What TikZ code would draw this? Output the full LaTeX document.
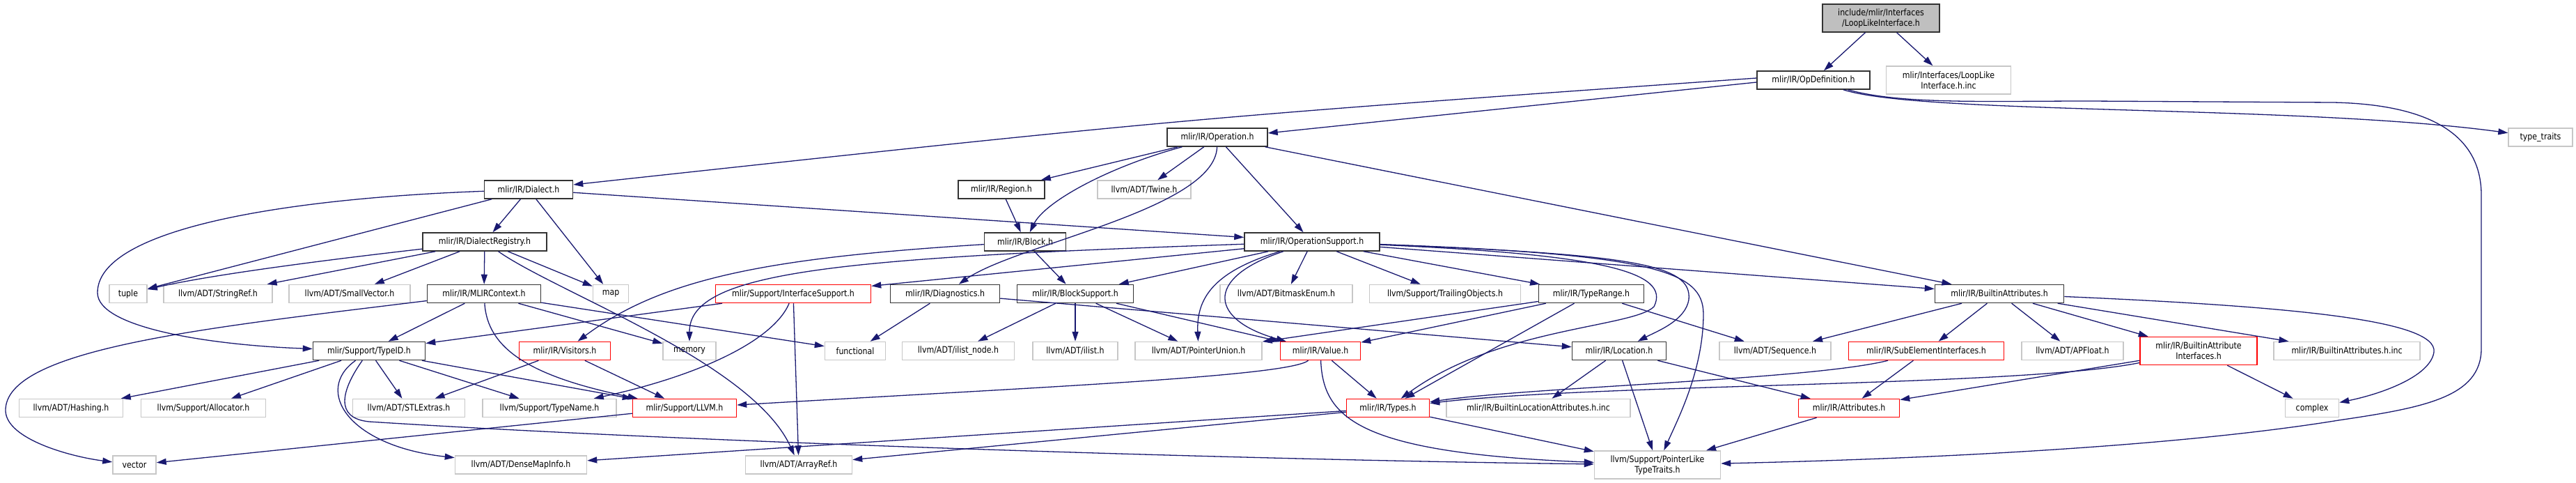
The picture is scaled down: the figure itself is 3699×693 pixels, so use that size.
\documentclass[tikz,border=0pt]{standalone}
\usepackage{fontspec}
\setmainfont{DejaVu Sans}[FakeStretch=0.86]
\usetikzlibrary{arrows.meta}
\definecolor{edgec}{HTML}{191970}
\tikzset{
  nd/.style={rectangle, line width=1.5pt, inner xsep=3pt, inner ysep=2pt, minimum height=26pt, align=center, font=\fontsize{12.8}{15}\selectfont, text=black},
  doc/.style={nd, draw=black!80},
  ext/.style={nd, draw=black!22},
  trunc/.style={nd, draw=red},
  topbox/.style={nd, draw=black!80, fill=black!25},
  w/.style={minimum width=#1pt},
  two/.style={minimum height=40pt},
  edge/.style={draw=edgec, line width=1.3pt, -{Triangle[length=14pt,width=9pt]}},
}
\begin{document}
\begin{tikzpicture}[x=1pt,y=-1pt]
\useasboundingbox (0,0) rectangle (3699,693);
% rank 0/1/2
\node[topbox,w=168,two] (top) at (2701,26) {include/mlir/Interfaces\\/LoopLikeInterface.h};
\node[doc,w=162] (opdef) at (2604,115) {mlir/IR/OpDefinition.h};
\node[ext,w=179,two] (inc) at (2798,115) {mlir/Interfaces/LoopLike\\Interface.h.inc};
\node[doc,w=144] (operation) at (1748,197) {mlir/IR/Operation.h};
\node[ext,w=92] (typetraits) at (3648,197) {type\_traits};
% rank 3
\node[doc,w=127] (dialect) at (759,272) {mlir/IR/Dialect.h};
\node[doc,w=124] (region) at (1438,272) {mlir/IR/Region.h};
\node[ext,w=134] (twine) at (1643,272) {llvm/ADT/Twine.h};
% rank 4
\node[doc,w=178] (registry) at (696,347) {mlir/IR/DialectRegistry.h};
\node[doc,w=117] (block) at (1472,347) {mlir/IR/Block.h};
\node[doc,w=194] (opsupport) at (1884,347) {mlir/IR/OperationSupport.h};
% rank 5
\node[ext,w=54] (tuple) at (184,421.5) {tuple};
\node[ext,w=156] (stringref) at (313,421.5) {llvm/ADT/StringRef.h};
\node[ext,w=174] (smallvector) at (502,421.5) {llvm/ADT/SmallVector.h};
\node[doc,w=163] (mlircontext) at (695,421.5) {mlir/IR/MLIRContext.h};
\node[ext,w=51] (map) at (877,421.5) {map};
\node[trunc,w=223] (ifsupport) at (1139,421.5) {mlir/Support/InterfaceSupport.h};
\node[doc,w=157] (diagnostics) at (1357,421.5) {mlir/IR/Diagnostics.h};
\node[doc,w=167] (blocksupport) at (1544,421.5) {mlir/IR/BlockSupport.h};
\node[ext,w=190] (bitmask) at (1847,421.5) {llvm/ADT/BitmaskEnum.h};
\node[ext,w=217] (trailing) at (2075,421.5) {llvm/Support/TrailingObjects.h};
\node[doc,w=151] (typerange) at (2285,421.5) {mlir/IR/TypeRange.h};
\node[doc,w=185] (battrs) at (2871,421.5) {mlir/IR/BuiltinAttributes.h};
% rank 6
\node[doc,w=161] (typeid) at (530,503.5) {mlir/Support/TypeID.h};
\node[trunc,w=131] (visitors) at (811,503.5) {mlir/IR/Visitors.h};
\node[ext,w=76] (memory) at (990,503.5) {memory};
\node[ext,w=87] (functional) at (1228,503.5) {functional};
\node[ext,w=161] (ilistnode) at (1376,503.5) {llvm/ADT/ilist\_node.h};
\node[ext,w=122] (ilist) at (1544,503.5) {llvm/ADT/ilist.h};
\node[ext,w=182] (ptrunion) at (1721,503.5) {llvm/ADT/PointerUnion.h};
\node[trunc,w=115] (value) at (1896,503.5) {mlir/IR/Value.h};
\node[doc,w=135] (location) at (2325,503.5) {mlir/IR/Location.h};
\node[ext,w=160] (sequence) at (2549,503.5) {llvm/ADT/Sequence.h};
\node[trunc,w=223] (subelem) at (2766,503.5) {mlir/IR/SubElementInterfaces.h};
\node[ext,w=146] (apfloat) at (2976,503.5) {llvm/ADT/APFloat.h};
\node[trunc,w=168,two] (baiface) at (3157,503.5) {mlir/IR/BuiltinAttribute\\Interfaces.h};
\node[ext,w=210] (battrsinc) at (3370,503.5) {mlir/IR/BuiltinAttributes.h.inc};
% rank 7
\node[ext,w=149] (hashing) at (102,585.5) {llvm/ADT/Hashing.h};
\node[ext,w=179] (allocator) at (292,585.5) {llvm/Support/Allocator.h};
\node[ext,w=161] (stlextras) at (587,585.5) {llvm/ADT/STLExtras.h};
\node[ext,w=192] (typename) at (789,585.5) {llvm/Support/TypeName.h};
\node[trunc,w=149] (llvmh) at (983,585.5) {mlir/Support/LLVM.h};
\node[trunc,w=119] (types) at (1993,585.5) {mlir/IR/Types.h};
\node[ext,w=264] (bla) at (2209,585.5) {mlir/IR/BuiltinLocationAttributes.h.inc};
\node[trunc,w=145] (attributes) at (2655,585.5) {mlir/IR/Attributes.h};
\node[ext,w=77] (complex) at (3320,585.5) {complex};
% rank 8
\node[ext,w=62] (vector) at (193,667) {vector};
\node[ext,w=189] (densemap) at (748,667) {llvm/ADT/DenseMapInfo.h};
\node[ext,w=153] (arrayref) at (1147,667) {llvm/ADT/ArrayRef.h};
\node[ext,w=181,two] (ptrlike) at (2380,667) {llvm/Support/PointerLike\\TypeTraits.h};

% straight edges
\foreach \a/\b in {top/opdef, top/inc,
  operation/region, operation/twine, operation/opsupport, operation/battrs,
  region/block, dialect/tuple, dialect/registry, dialect/map, dialect/opsupport,
  registry/stringref, registry/smallvector, registry/mlircontext, registry/map,
  mlircontext/typeid, mlircontext/memory, mlircontext/functional,
  ifsupport/typeid, ifsupport/arrayref, block/blocksupport,
  opsupport/ifsupport, opsupport/blocksupport, opsupport/bitmask, opsupport/trailing,
  opsupport/typerange, opsupport/battrs, diagnostics/functional, diagnostics/location,
  blocksupport/ilistnode, blocksupport/ilist, blocksupport/ptrunion, blocksupport/value,
  typerange/ptrunion, typerange/value, typerange/types, typerange/sequence,
  battrs/sequence, battrs/subelem, battrs/apfloat, battrs/baiface, battrs/battrsinc,
  typeid/hashing, typeid/allocator, typeid/stlextras, typeid/typename, typeid/llvmh,
  visitors/stlextras, visitors/llvmh, llvmh/vector, value/types,
  types/densemap, types/arrayref, types/ptrlike,
  location/bla, location/ptrlike, location/attributes,
  subelem/attributes, baiface/attributes, baiface/complex, attributes/ptrlike}
  \draw[edge] (\a) -- (\b);

% curved / ported edges
\draw[edge] ([yshift=-3pt]opdef.west) -- ([yshift=6pt]operation.east);
\draw[edge] ([yshift=3pt]opdef.west) .. controls (1700,170) .. ([yshift=7pt]dialect.east);
\draw[edge] (opdef) .. controls (2760,165) and (3300,150) .. (typetraits);
\draw[edge] (opdef) .. controls (2730,150) and (2850,145) .. (3000,145) -- (3350,147)
  .. controls (3500,150) and (3563,200) .. (3563,280) -- (3563,500)
  .. controls (3563,570) and (3480,585) .. (3358,603)
  .. controls (3100,645) and (2700,660) .. (ptrlike);
\draw[edge] (operation) .. controls (1590,240) and (1500,290) .. (block);
\draw[edge] (operation) .. controls (1745,300) and (1460,350) .. (diagnostics);
\draw[edge] (dialect) .. controls (400,285) and (140,330) .. (140,420)
  .. controls (140,470) and (300,495) .. (typeid);
\draw[edge] (registry) .. controls (450,375) and (300,395) .. (tuple);
\draw[edge] (registry) .. controls (800,420) and (1080,520) .. (arrayref);
\draw[edge] (mlircontext) .. controls (300,470) and (5,500) .. (8,590)
  .. controls (10,630) and (100,655) .. (vector);
\draw[edge] (mlircontext) .. controls (700,500) and (760,540) .. (llvmh);
\draw[edge] (ifsupport) .. controls (1110,490) and (1000,540) .. (typename);
\draw[edge] (block) .. controls (1100,370) and (950,400) .. (visitors);
\draw[edge] (opsupport) .. controls (1200,370) and (990,390) .. (memory);
\draw[edge] (opsupport) .. controls (1740,390) and (1718,430) .. (ptrunion);
\draw[edge] (opsupport) .. controls (1725,400) and (1740,460) .. (value);
\draw[edge] (opsupport) .. controls (2300,365) and (2400,390) .. (2375,440)
  .. controls (2345,470) and (2150,470) .. (types);
\draw[edge] (opsupport) .. controls (2350,365) and (2430,380) .. (2425,430)
  .. controls (2420,460) and (2380,475) .. (location);
\draw[edge] (opsupport) .. controls (2380,365) and (2445,390) .. (2446,450)
  .. controls (2446,530) and (2410,600) .. (ptrlike);
\draw[edge] (battrs) .. controls (3300,440) and (3500,460) .. (3495,505)
  .. controls (3490,540) and (3420,565) .. (complex);
\draw[edge] (typeid) .. controls (450,560) and (500,640) .. (densemap);
\draw[edge] (typeid) .. controls (490,560) and (480,600) .. (530,605)
  .. controls (1000,635) and (1800,660) .. (ptrlike);
\draw[edge] (value) .. controls (1850,540) and (1500,555) .. (llvmh);
\draw[edge] (value) .. controls (1900,600) and (1950,650) .. (ptrlike);
\draw[edge] (subelem) .. controls (2600,545) and (2200,555) .. (types);
\draw[edge] (baiface) .. controls (2900,555) and (2300,550) .. (types);
\end{tikzpicture}
\end{document}
